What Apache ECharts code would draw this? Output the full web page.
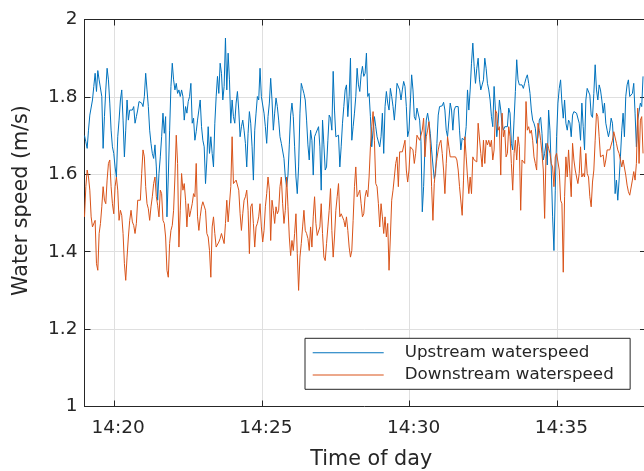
<!DOCTYPE html>
<html><head><meta charset="utf-8">
<script src="https://cdn.jsdelivr.net/npm/echarts@6/dist/echarts.min.js"></script>
<style>html,body{margin:0;padding:0;background:#fff}#c{width:644px;height:471px}</style>
</head><body><div id="c"></div>
<script>
const seriesNames = ['Upstream waterspeed', 'Downstream waterspeed'];
const firstSample = '14:19:00';
const sampleStepSeconds = 2.7;
const xLimits = ['14:19:00', '14:38:00'];
const xTickLabels = ['14:20', '14:25', '14:30', '14:35'];
const yLimits = [1, 2];
const yStep = 0.2;

const upstream = [
1.700,1.684,1.667,1.714,1.753,1.751,1.792,1.827,1.861,1.814,
1.868,1.844,1.848,1.801,1.667,1.749,1.818,1.874,1.844,1.784,
1.714,1.671,1.654,1.619,1.593,1.697,1.740,1.792,1.818,1.740,
1.645,1.714,1.792,1.740,1.766,1.762,1.766,1.775,1.732,1.749,
1.766,1.788,1.792,1.784,1.775,1.801,1.861,1.818,1.775,1.714,
1.680,1.654,1.641,1.676,1.619,1.533,1.602,1.645,1.697,1.758,
1.706,1.749,1.490,1.593,1.714,1.827,1.887,1.844,1.818,1.835,
1.809,1.818,1.801,1.818,1.801,1.740,1.775,1.758,1.788,1.801,
1.835,1.732,1.745,1.688,1.710,1.740,1.766,1.792,1.723,1.688,
1.671,1.576,1.637,1.723,1.654,1.697,1.654,1.619,1.732,1.801,
1.853,1.809,1.887,1.861,1.792,1.827,1.952,1.818,1.913,1.844,
1.732,1.792,1.749,1.732,1.784,1.814,1.766,1.697,1.723,1.740,
1.714,1.680,1.619,1.706,1.762,1.732,1.671,1.585,1.714,1.758,
1.801,1.792,1.874,1.801,1.779,1.758,1.723,1.680,1.749,1.784,
1.848,1.792,1.714,1.758,1.797,1.775,1.740,1.697,1.680,1.676,
1.641,1.593,1.568,1.598,1.676,1.753,1.784,1.749,1.671,1.593,
1.550,1.619,1.758,1.835,1.822,1.809,1.792,1.740,1.676,1.637,
1.714,1.688,1.598,1.697,1.706,1.701,1.723,1.671,1.559,1.740,
1.676,1.611,1.619,1.688,1.753,1.745,1.714,1.866,1.766,1.697,
1.697,1.701,1.619,1.671,1.732,1.775,1.818,1.831,1.749,1.801,
1.900,1.688,1.723,1.758,1.801,1.874,1.831,1.814,1.857,1.879,
1.853,1.861,1.913,1.801,1.809,1.749,1.671,1.714,1.749,1.723,
1.697,1.697,1.671,1.697,1.758,1.654,1.775,1.814,1.784,1.766,
1.822,1.801,1.775,1.740,1.784,1.835,1.840,1.818,1.792,1.818,
1.840,1.827,1.775,1.697,1.714,1.784,1.857,1.818,1.749,1.740,
1.771,1.766,1.740,1.684,1.503,1.568,1.671,1.740,1.758,1.736,
1.706,1.663,1.624,1.589,1.602,1.680,1.753,1.775,1.773,1.777,
1.786,1.766,1.714,1.697,1.740,1.784,1.766,1.714,1.766,1.775,
1.775,1.775,1.714,1.663,1.693,1.688,1.688,1.723,1.818,1.766,
1.818,1.887,1.939,1.879,1.835,1.874,1.900,1.844,1.818,1.831,
1.844,1.900,1.874,1.835,1.818,1.792,1.749,1.723,1.827,1.766,
1.697,1.732,1.792,1.766,1.727,1.714,1.723,1.727,1.723,1.771,
1.758,1.680,1.663,1.740,1.814,1.896,1.844,1.831,1.831,1.831,
1.822,1.835,1.848,1.857,1.835,1.809,1.766,1.740,1.732,1.719,
1.680,1.697,1.740,1.747,1.706,1.637,1.654,1.680,1.624,1.766,
1.714,1.611,1.490,1.403,1.559,1.697,1.784,1.822,1.844,1.784,
1.745,1.792,1.732,1.714,1.740,1.733,1.697,1.753,1.762,1.758,
1.758,1.762,1.732,1.688,1.784,1.723,1.663,1.792,1.822,1.818,
1.805,1.753,1.747,1.809,1.883,1.818,1.792,1.831,1.818,1.792,
1.758,1.784,1.732,1.714,1.697,1.714,1.745,1.732,1.671,1.550,
1.585,1.533,1.585,1.645,1.714,1.758,1.697,1.801,1.831,1.844,
1.801,1.801,1.809,1.835,1.758,1.671,1.740,1.740,1.784,1.775,1.853
];

const downstream = [
1.490,1.568,1.611,1.593,1.559,1.490,1.464,1.464,1.481,1.369,
1.352,1.447,1.473,1.516,1.568,1.533,1.524,1.585,1.628,1.637,
1.568,1.524,1.498,1.568,1.593,1.559,1.481,1.507,1.494,1.447,
1.369,1.326,1.386,1.438,1.481,1.507,1.477,1.468,1.447,1.473,
1.533,1.533,1.533,1.602,1.663,1.645,1.568,1.524,1.511,1.481,
1.516,1.542,1.576,1.593,1.542,1.520,1.490,1.559,1.550,1.481,
1.473,1.438,1.352,1.334,1.421,1.455,1.468,1.507,1.593,1.701,
1.628,1.412,1.507,1.602,1.559,1.576,1.533,1.464,1.524,1.490,
1.507,1.524,1.550,1.542,1.628,1.490,1.455,1.490,1.516,1.529,
1.524,1.507,1.447,1.438,1.403,1.334,1.464,1.490,1.447,1.412,
1.412,1.425,1.434,1.447,1.447,1.421,1.473,1.533,1.477,1.477,
1.568,1.697,1.576,1.576,1.585,1.580,1.559,1.498,1.455,1.498,
1.533,1.542,1.559,1.507,1.395,1.516,1.524,1.473,1.412,1.464,
1.473,1.490,1.524,1.464,1.425,1.455,1.516,1.550,1.593,1.559,
1.429,1.533,1.507,1.473,1.516,1.498,1.507,1.568,1.593,1.524,
1.473,1.507,1.593,1.516,1.438,1.390,1.429,1.403,1.447,1.498,
1.395,1.300,1.386,1.421,1.464,1.507,1.455,1.447,1.434,1.403,
1.464,1.412,1.490,1.542,1.473,1.442,1.447,1.464,1.524,1.447,
1.386,1.377,1.421,1.464,1.507,1.563,1.455,1.386,1.438,1.507,
1.542,1.576,1.490,1.498,1.498,1.481,1.464,1.490,1.455,1.412,
1.386,1.403,1.481,1.568,1.619,1.542,1.550,1.559,1.524,1.490,
1.498,1.542,1.559,1.542,1.593,1.671,1.723,1.762,1.688,1.576,
1.568,1.524,1.464,1.524,1.490,1.447,1.490,1.438,1.473,1.352,
1.438,1.533,1.559,1.593,1.628,1.645,1.568,1.658,1.654,1.658,
1.658,1.688,1.611,1.580,1.611,1.671,1.676,1.663,1.628,1.654,
1.701,1.706,1.688,1.688,1.714,1.745,1.645,1.697,1.714,1.736,
1.680,1.568,1.481,1.576,1.615,1.641,1.663,1.680,1.688,1.654,
1.611,1.550,1.628,1.697,1.671,1.645,1.645,1.645,1.650,1.645,
1.637,1.611,1.568,1.572,1.494,1.585,1.697,1.645,1.593,1.550,
1.593,1.550,1.645,1.637,1.632,1.632,1.732,1.732,1.654,1.619,
1.688,1.628,1.688,1.676,1.688,1.671,1.688,1.637,1.663,1.766,
1.758,1.714,1.723,1.598,1.758,1.697,1.714,1.645,1.654,1.723,
1.697,1.628,1.559,1.654,1.688,1.637,1.697,1.671,1.507,1.637,
1.637,1.628,1.788,1.714,1.723,1.706,1.714,1.688,1.645,1.628,
1.611,1.732,1.714,1.688,1.654,1.611,1.486,1.645,1.680,1.667,
1.654,1.628,1.619,1.568,1.645,1.654,1.658,1.611,1.533,1.524,
1.347,1.542,1.645,1.593,1.663,1.602,1.542,1.680,1.637,1.611,
1.593,1.576,1.602,1.671,1.593,1.602,1.593,1.654,1.602,1.593,
1.542,1.516,1.580,1.611,1.688,1.758,1.749,1.697,1.645,1.645,
1.650,1.619,1.637,1.663,1.667,1.663,1.658,1.688,1.710,1.706,
1.680,1.663,1.654,1.637,1.619,1.637,1.637,1.598,1.572,1.555,
1.546,1.550,1.585,1.607,1.585,1.628,1.771,1.628,1.740,1.749,1.654
];

const FONT = 'DejaVu Sans';
const INK = '#262626';
const GRID = '#dfdfdf';
const COLORS = ['#0072BD', '#D95319'];

function toSec(s) { const p = s.split(':').map(Number); return p[0] * 3600 + p[1] * 60 + (p[2] || 0); }
function fmtTime(sec) {
  const h = Math.floor(sec / 3600), m = Math.round((sec - h * 3600) / 60);
  return h + ':' + String(m).padStart(2, '0');
}
const t0 = toSec(firstSample);
const xMin = toSec(xLimits[0]), xMax = toSec(xLimits[1]);
const xTickSecs = xTickLabels.map(toSec);
const upData = upstream.map((v, i) => [t0 + i * sampleStepSeconds, v]);
const downData = downstream.map((v, i) => [t0 + i * sampleStepSeconds, v]);

const axisLine = { show: true, lineStyle: { color: INK, width: 1 } };
const tick = { show: true, inside: true, length: 6, lineStyle: { color: INK, width: 1 } };

const chart = echarts.init(document.getElementById('c'), null, { renderer: 'canvas' });
chart.setOption({
  animation: false,
  backgroundColor: '#fff',
  textStyle: { fontFamily: FONT },
  grid: { left: 84.5, right: -2, top: 19.5, bottom: 64.5, containLabel: false, outerBoundsMode: 'none' },
  xAxis: [{
    type: 'value', position: 'bottom', min: xMin, max: xMax,
    axisLine: axisLine,
    axisTick: Object.assign({}, tick, { customValues: xTickSecs }),
    axisLabel: { customValues: xTickSecs, formatter: v => fmtTime(v), fontSize: 18.5, color: INK, fontFamily: FONT, margin: 12, padding: [0, 0, 0, 8] },
    splitLine: { show: true, lineStyle: { color: GRID, width: 1 } },
    name: 'Time of day', nameLocation: 'middle', nameGap: 43,
    nameTextStyle: { fontSize: 20.7, color: INK, fontFamily: FONT, padding: [0, 0, 0, 12] }
  }, {
    type: 'value', position: 'top', min: xMin, max: xMax,
    axisLine: axisLine,
    axisTick: Object.assign({}, tick, { customValues: xTickSecs }),
    axisLabel: { show: false },
    splitLine: { show: false }
  }],
  yAxis: [{
    type: 'value', position: 'left', min: yLimits[0], max: yLimits[1], interval: yStep,
    axisLine: axisLine, axisTick: tick,
    axisLabel: { fontSize: 18.5, color: INK, fontFamily: FONT, margin: 7 },
    splitLine: { show: true, lineStyle: { color: GRID, width: 1 } },
    name: 'Water speed (m/s)', nameLocation: 'middle', nameGap: 52,
    nameTextStyle: { fontSize: 20.7, color: INK, fontFamily: FONT, padding: [0, 0, 0, 25] }
  }, {
    type: 'value', position: 'right', min: yLimits[0], max: yLimits[1], interval: yStep,
    axisLine: axisLine, axisTick: tick,
    axisLabel: { show: false },
    splitLine: { show: false }
  }],
  legend: {
    orient: 'vertical', left: 305, top: 338.3,
    padding: [4.4, 16.4, 4.3, 7.7],
    backgroundColor: '#fff', borderColor: INK, borderWidth: 1, borderRadius: 0,
    itemWidth: 71, itemHeight: 1, itemGap: 2.3, icon: 'rect',
    textStyle: { fontSize: 16.7, color: INK, fontFamily: FONT, lineHeight: 20, padding: [0, 0, 0, 16] },
    data: seriesNames
  },
  series: [
    { name: seriesNames[0], type: 'line', data: upData, showSymbol: false, symbol: 'none',
      color: COLORS[0], lineStyle: { width: 1, color: COLORS[0] }, xAxisIndex: 0, yAxisIndex: 0 },
    { name: seriesNames[1], type: 'line', data: downData, showSymbol: false, symbol: 'none',
      color: COLORS[1], lineStyle: { width: 1, color: COLORS[1] }, xAxisIndex: 0, yAxisIndex: 0 }
  ]
});
</script>
</body></html>
